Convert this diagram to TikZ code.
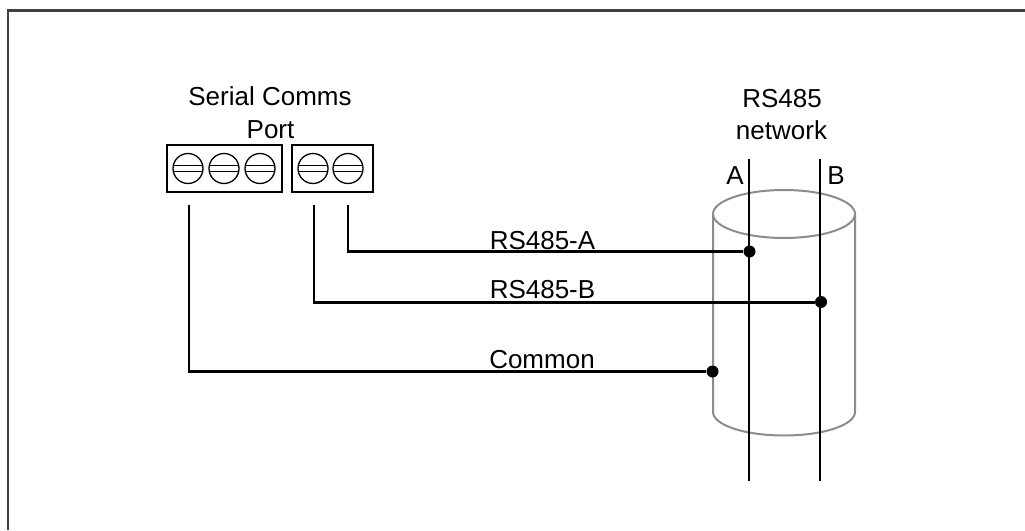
\documentclass[tikz,border=0pt]{standalone}
\usepackage{fontspec}
\setmainfont{Liberation Sans}
\definecolor{framegray}{HTML}{404040}
\definecolor{cylgray}{HTML}{8C8C8C}
\tikzset{
  lbl/.style={inner sep=0pt,font=\fontsize{26}{32.5}\selectfont,align=center,text=black},
  portbox/.style={draw=black,line width=2pt,minimum height=47pt,inner sep=0pt},
  screw/.style={circle,draw=black,line width=1.3pt,minimum size=30pt,inner sep=0pt},
  slot/.style={draw=black,line width=1.3pt},
  wire/.style={draw=black,line width=3pt},
  drop/.style={draw=black,line width=2pt},
  strand/.style={draw=black,line width=2pt},
  dot/.style={circle,fill=black,minimum size=12pt,inner sep=0pt},
  cyl/.style={draw=cylgray,line width=2pt}
}
\begin{document}
\begin{tikzpicture}[x=1pt,y=-1pt,line join=miter]
\useasboundingbox (0,0) rectangle (1025,530);
\draw[draw=framegray,line width=2.2pt] (8,530) -- (8,10.5) -- (1025,10.5);
% port boxes
\node[portbox,minimum width=115pt] (boxL) at (224.5,168.5) {};
\node[portbox,minimum width=81pt] (boxR) at (332.5,168.5) {};
% screws
\foreach \n/\x in {s1/188,s2/224,s3/260,s4/313,s5/348}{
  \node[screw] (\n) at (\x,168.5) {};
  \draw[slot] ([yshift=-3pt]\n.west) ++(0.6,0) -- ++(28.8,0);
  \draw[slot] ([yshift=3pt]\n.west) ++(0.6,0) -- ++(28.8,0);
}
% cylinder
\coordinate (cylTL) at (713,214);
\coordinate (cylTR) at (855,214);
\coordinate (cylBL) at (713,412);
\coordinate (cylBR) at (855,412);
\draw[cyl] (784,214) ellipse [x radius=71,y radius=24];
\draw[cyl] (cylTL) -- (cylBL) arc[start angle=180,end angle=0,x radius=71,y radius=23.5] -- (cylTR);
% network strands
\coordinate (atop) at (749,159);
\coordinate (abot) at (749,481);
\coordinate (btop) at (820,159);
\coordinate (bbot) at (820,481);
\draw[strand] (atop) -- (abot);
\draw[strand] (btop) -- (bbot);
% junction dots
\node[dot] (dA) at (749.5,251.5) {};
\node[dot] (dB) at (821,302) {};
\node[dot] (dC) at (712.5,371.5) {};
% wire starts
\coordinate (pA) at (348,205);
\coordinate (pB) at (314,205);
\coordinate (pC) at (189,205);
\coordinate (cA) at (348,251.5);
\coordinate (cB) at (314,302);
\coordinate (cC) at (189,371.5);
\draw[drop] (pA) -- (cA);
\draw[drop] (pB) -- (cB);
\draw[drop] (pC) -- (cC);
\draw[wire] ([xshift=-1pt]cA) -- (dA);
\draw[wire] ([xshift=-1pt]cB) -- (dB);
\draw[wire] ([xshift=-1pt]cC) -- (dC);
% labels
\node[lbl,anchor=base] (t1) at (270,105) {Serial Comms};
\node[lbl,anchor=base] (t2) at (270.5,138) {Port};
\node[lbl,anchor=base] (t3) at (782,107) {RS485};
\node[lbl,anchor=base] (t4) at (781.5,139) {network};
\node[lbl,anchor=base] (t5) at (735,184) {A};
\node[lbl,anchor=base] (t6) at (836,184) {B};
\node[lbl,anchor=base] (t7) at (542.5,249) {RS485-A};
\node[lbl,anchor=base] (t8) at (542.5,298) {RS485-B};
\node[lbl,anchor=base] (t9) at (542,368) {Common};
\end{tikzpicture}
\end{document}
